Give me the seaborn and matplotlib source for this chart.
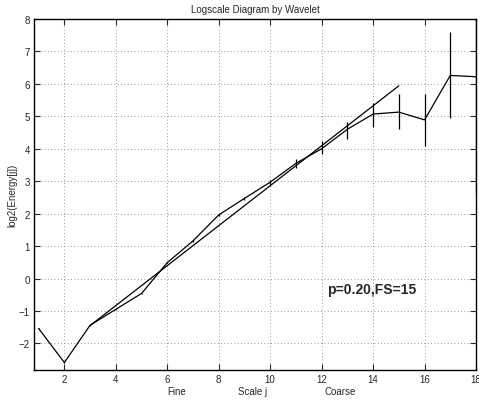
import numpy as np
import pandas as pd
import matplotlib
matplotlib.use('Agg')
import matplotlib.pyplot as plt
import seaborn as sns

# data
scale_j = [1, 2, 3, 4, 5, 6, 7, 8, 9, 10, 11, 12, 13, 14, 15, 16, 17, 18]
log_energy = [-1.54, -2.59, -1.44, -0.95, -0.46, 0.49, 1.16, 1.96, 2.47, 2.97,
              3.55, 4.0, 4.6, 5.07, 5.13, 4.89, 6.26, 6.22]
err_low = [-1.56, -2.61, -1.46, -0.97, -0.48, 0.47, 1.14, 1.93, 2.41, 2.84,
           3.42, 3.83, 4.30, 4.68, 4.61, 4.08, 4.94, 2.60]
err_high = [-1.52, -2.57, -1.42, -0.93, -0.44, 0.51, 1.18, 1.99, 2.52, 3.03,
            3.67, 4.23, 4.81, 5.42, 5.68, 5.68, 7.59, 10.0]
fit_j = [3, 15]
fit_y = [-1.45, 5.94]

df = pd.DataFrame({'j': scale_j, 'y': log_energy, 'lo': err_low, 'hi': err_high})
fit = pd.DataFrame({'j': fit_j, 'y': fit_y})

sns.set_style('ticks')
plt.rcParams['font.family'] = ['Liberation Sans', 'DejaVu Sans']

fig = plt.figure(figsize=(4.79, 4.02), dpi=100)
ax = fig.add_axes([34 / 479, 31 / 402, 442 / 479, 351 / 402])

# data line, error bars and regression line
sns.lineplot(data=df, x='j', y='y', color='black', linewidth=0.9, ax=ax,
             estimator=None, sort=False)
sns.lineplot(data=fit, x='j', y='y', color='black', linewidth=0.9, ax=ax,
             estimator=None, sort=False)
ax.vlines(df['j'], df['lo'], df['hi'], color='black', linewidth=0.9)

ax.set_xlim(0.82, 18.0)
ax.set_ylim(-2.82, 8)
ax.set_xticks(range(2, 19, 2))
ax.set_yticks(range(-2, 9))
ax.grid(True, linestyle=(0, (1, 3)), color='#777777', linewidth=0.6)
ax.tick_params(direction='in', length=4, width=0.8, labelsize=7,
               top=True, right=True, pad=3)
for s in ax.spines.values():
    s.set_linewidth(1.0)
    s.set_color('black')

ax.set_title('Logscale Diagram by Wavelet', fontsize=7, pad=5)
ax.set_ylabel('log2(Energy[j])', fontsize=7, labelpad=1)
ax.set_xlabel('')
fig.text(177 / 479, 1 - 392 / 402, 'Fine', fontsize=7, ha='center', va='center')
fig.text(253 / 479, 1 - 392 / 402, 'Scale j', fontsize=7, ha='center', va='center')
fig.text(340 / 479, 1 - 392 / 402, 'Coarse', fontsize=7, ha='center', va='center')

ax.text(12.2, -0.32, 'p=0.20,FS=15', fontsize=10, fontweight='bold',
        ha='left', va='center')

fig.savefig('out.png', dpi=100)
